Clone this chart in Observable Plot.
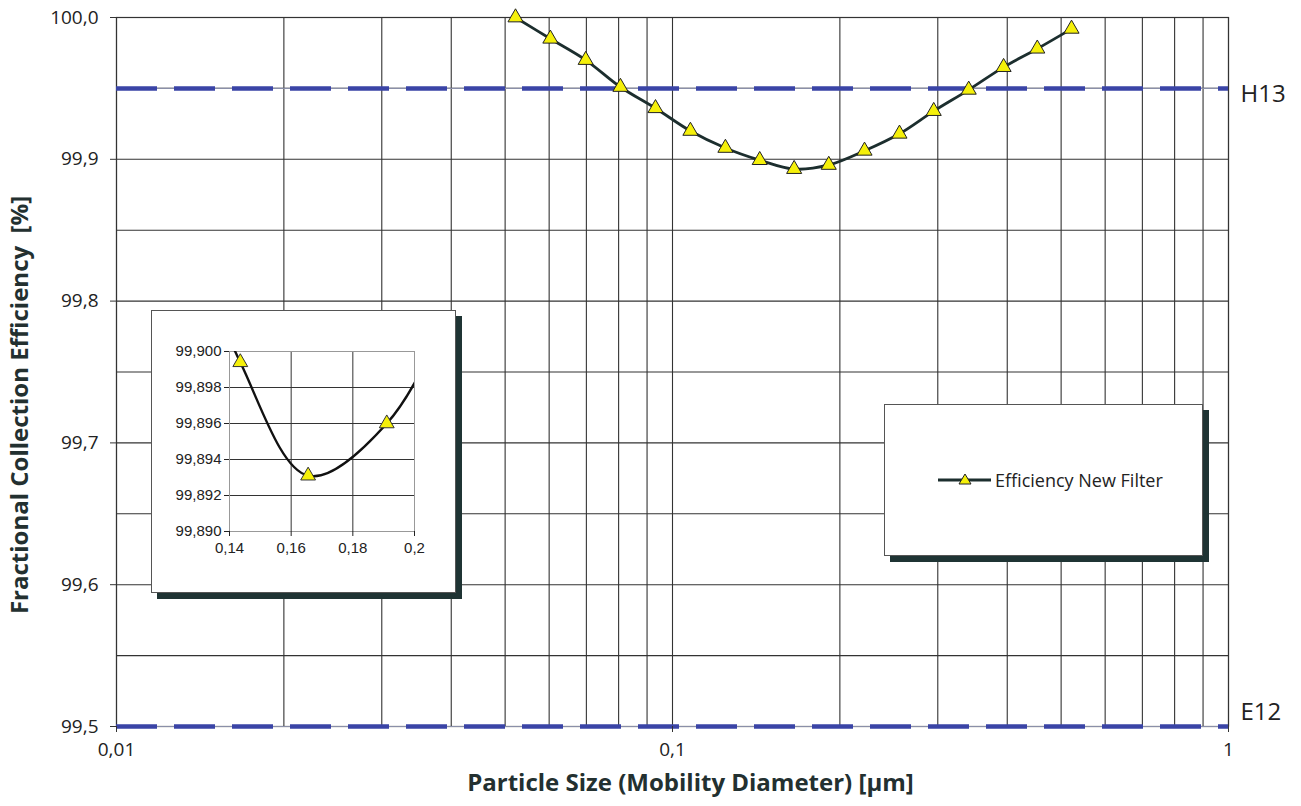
<!DOCTYPE html>
<html><head><meta charset="utf-8">
<script src="https://cdn.jsdelivr.net/npm/d3@7"></script>
<script src="https://cdn.jsdelivr.net/npm/@observablehq/plot@0.6"></script>
<style>
body{margin:0;background:#fff;}
#wrap{position:relative;width:1301px;height:806px;overflow:hidden;background:#fff;}
#main{position:absolute;left:0;top:0;}
#inset{position:absolute;left:151px;top:310px;width:303px;height:281px;border:1px solid #555;background:#fff;box-shadow:6px 6px 0 #1f3434;}
#inset svg text{font-size:15px;}
#legend{position:absolute;left:884px;top:404px;width:317px;height:150px;border:1px solid #555;background:#fff;box-shadow:6px 6px 0 #1f3434;}
#legend .item{position:absolute;left:52px;top:63px;display:flex;align-items:center;font-family:"Open Sans",sans-serif;font-size:18px;color:#222;}
</style></head>
<body><div id="wrap"><div id="main"></div><div id="inset"></div><div id="legend"><div class="item"><svg width="56" height="16" style="margin-right:2px"><line x1="1" y1="8" x2="54" y2="8" stroke="#1c2e2e" stroke-width="3"/><path d="M28,2 L34,12 L22,12 Z" fill="#f5f00a" stroke="#222" stroke-width="1"/></svg><span>Efficiency New Filter</span></div></div></div>
<script>
// Data (particle mobility diameter in µm, fractional efficiency in %)
const sizes = [0.0522,0.0603,0.0698,0.0806,0.0932,0.1077,0.1245,0.1435,0.1655,0.191,0.2215,0.256,0.295,0.341,0.394,0.453,0.522];
const efficiency = [100.0,99.985,99.970,99.951,99.936,99.920,99.908,99.8994,99.8931,99.8960,99.906,99.918,99.934,99.949,99.965,99.978,99.992];
const classNames = ["H13","E12"];
const classLimits = [99.95,99.5];
const yTicks = [99.5,99.6,99.7,99.8,99.9,100.0];
const yGrid = [99.5,99.55,99.6,99.65,99.7,99.75,99.8,99.85,99.9,99.95,100.0];
const xTicks = [0.01,0.1,1];
const xGrid = [0.01,0.02,0.03,0.04,0.05,0.06,0.07,0.08,0.09,0.1,0.2,0.3,0.4,0.5,0.6,0.7,0.8,0.9,1];
const insetXTicks = [0.14,0.16,0.18,0.2];
const insetYTicks = [99.890,99.892,99.894,99.896,99.898,99.900];

const data = sizes.map((s,i)=>({size:s, eff:efficiency[i]}));
const classes = classNames.map((n,i)=>({name:n, limit:classLimits[i]}));
const comma = (v,d)=>v.toFixed(d).replace(".",",");
const xFmt = d => String(d).replace(".",",");

const main = Plot.plot({
  width:1301, height:806,
  marginLeft:116, marginRight:73, marginTop:17, marginBottom:80,
  style:{fontFamily:"'Open Sans', sans-serif", color:"#222", background:"#fff", overflow:"visible"},
  x:{type:"log", domain:[0.01,1]},
  y:{domain:[99.5,100.0]},
  marks:[
    Plot.ruleX(xGrid,{stroke:"#333", strokeWidth:1.1, strokeOpacity:1}),
    Plot.ruleY(yGrid,{stroke:"#333", strokeWidth:1.1, strokeOpacity:1}),
    Plot.frame({stroke:"#333", strokeWidth:1.2}),
    Plot.ruleY(classes,{y:"limit", stroke:"#8a8fa8", strokeWidth:1.2}),
    Plot.ruleY(classes,{y:"limit", stroke:"#3a44a6", strokeWidth:4.5, strokeDasharray:"41,17"}),
    Plot.text(classes,{x:()=>1, y:"limit", text:"name", textAnchor:"start", dx:12, fontSize:24, fill:"#222"}),
    Plot.axisY({ticks:yTicks, tickFormat:d=>comma(d,1), tickSize:6, tickPadding:12, fontSize:19, label:null, stroke:"#333"}),
    Plot.axisX({ticks:xTicks, tickFormat:xFmt, tickSize:6, tickPadding:10, fontSize:19, label:null, stroke:"#333"}),
    Plot.text(["Fractional Collection Efficiency \u00a0[%]"],{frameAnchor:"left", textAnchor:"middle", dx:-96, dy:33, rotate:-90, fontSize:24, fontWeight:"bold", fill:"#233030"}),
    Plot.text(["Particle Size (Mobility Diameter) [µm]"],{frameAnchor:"bottom", dx:18, dy:64, fontSize:24, fontWeight:"bold", fill:"#233030"}),
    Plot.line(data,{x:"size", y:"eff", curve:"catmull-rom", stroke:"#1c2e2e", strokeWidth:2.8}),
    Plot.dot(data,{x:"size", y:"eff", symbol:"triangle", r:5.6, fill:"#f5f00a", stroke:"#222", strokeWidth:1, fillOpacity:1})
  ]
});
// E12 label sits above its line, H13 slightly below
main.querySelectorAll("text").forEach(t=>{
  if(t.textContent==="E12") t.setAttribute("transform",(t.getAttribute("transform")||"")+" translate(0,-14)");
  if(t.textContent==="H13") t.setAttribute("transform",(t.getAttribute("transform")||"")+" translate(0,6)");
});
document.getElementById("main").appendChild(main);

const insetData = data.filter(d=>d.size>=0.14 && d.size<=0.2);
const inset = Plot.plot({
  width:303, height:281,
  marginLeft:77, marginRight:41, marginTop:40, marginBottom:61,
  style:{fontFamily:"'Liberation Sans', Arial, sans-serif", fontSize:"15px", color:"#222", background:"#fff", overflow:"visible"},
  x:{domain:[0.14,0.2]},
  y:{domain:[99.890,99.900]},
  marks:[
    Plot.ruleX(insetXTicks,{stroke:"#333", strokeWidth:1}),
    Plot.ruleY(insetYTicks,{stroke:"#333", strokeWidth:1}),
    Plot.frame({stroke:"#999"}),
    Plot.axisY({ticks:insetYTicks, tickFormat:d=>comma(d,3), tickSize:5, tickPadding:3, fontSize:15, label:null}),
    Plot.axisX({ticks:insetXTicks, tickFormat:xFmt, tickSize:5, tickPadding:6, fontSize:15, label:null}),
    Plot.line(data,{x:"size", y:"eff", curve:"catmull-rom", stroke:"#111", strokeWidth:2.4, clip:true}),
    Plot.dot(insetData,{x:"size", y:"eff", symbol:"triangle", r:5.5, fill:"#f5f00a", stroke:"#333", strokeWidth:1})
  ]
});
document.getElementById("inset").appendChild(inset);
</script></body></html>
